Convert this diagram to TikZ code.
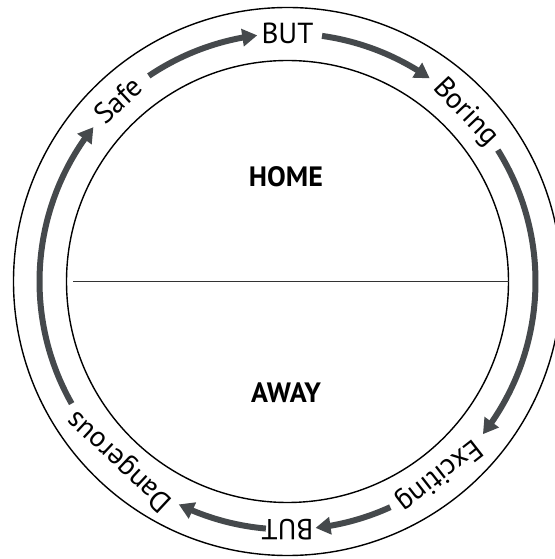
\documentclass[tikz,border=0pt]{standalone}
\usepackage{fontspec}
\setmainfont{PT Sans}
\usetikzlibrary{arrows.meta,bending}
\definecolor{arrowgray}{HTML}{45494C}
\definecolor{linegray}{HTML}{333333}
\begin{document}
\begin{tikzpicture}[x=1pt,y=1pt,
  ring/.style={draw=black,line width=1.4pt},
  flow/.style={draw=arrowgray,line width=6pt,-{Triangle[length=15pt,width=17pt]}},
  ringlabel/.style={anchor=base,inner sep=0pt,rotate=#1-90,font=\fontsize{29pt}{32pt}\selectfont},
  titletext/.style={font=\bfseries\fontsize{28pt}{30pt}\selectfont}]
\useasboundingbox (-287.5,-277.5) rectangle (266.5,281.5);
% circles
\coordinate (c) at (0,0);
\draw[ring] (c) circle[radius=274];
\draw[ring] (c) circle[radius=221];
% divider
\coordinate (dl) at (-214,0);
\coordinate (dr) at (221,0);
\draw[draw=linegray,line width=1.4pt] (dl) -- (dr);
% titles
\node[titletext] (home) at (-1.5,104.5) {HOME};
\node[titletext] (away) at (-1.5,-111.5) {AWAY};
% labels round the ring (clockwise, tops outward)
\node[ringlabel=133] (safe) at (133:238) {Safe};
\node[ringlabel=90] (but1) at (90:238) {BUT};
\node[ringlabel=43.5] (boring) at (43.5:238) {Boring};
\node[ringlabel=-52] (exciting) at (-52:238) {Exciting};
\node[ringlabel=-90] (but2) at (-90:238) {BUT};
\node[ringlabel=-133] (dangerous) at (-133:238) {Dangerous};
% arrows
\coordinate (a1) at (124:248);
\coordinate (a2) at (82:248);
\coordinate (a3) at (32:248);
\coordinate (a4) at (-65.5:248);
\coordinate (a5) at (-95:248);
\coordinate (a6) at (209.5:248);
\draw[flow] (a1) arc[start angle=124,end angle=97,radius=248];
\draw[flow] (a2) arc[start angle=82,end angle=55,radius=248];
\draw[flow] (a3) arc[start angle=32,end angle=-38,radius=248];
\draw[flow] (a4) arc[start angle=-65.5,end angle=-83.5,radius=248];
\draw[flow] (a5) arc[start angle=-95,end angle=-116,radius=248];
\draw[flow] (a6) arc[start angle=209.5,end angle=141.5,radius=248];
\end{tikzpicture}
\end{document}
